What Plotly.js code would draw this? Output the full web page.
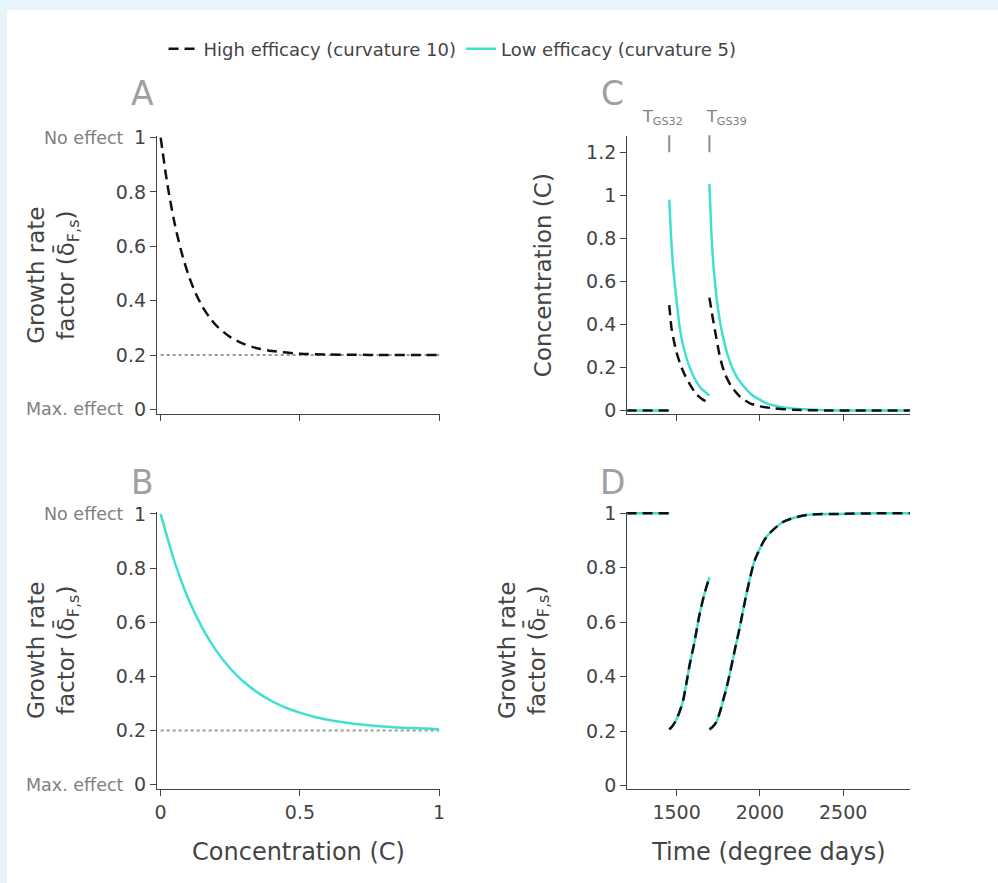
<!DOCTYPE html>
<html>
<head>
<meta charset="utf-8">
<script src="https://cdn.plot.ly/plotly-3.0.1.min.js"></script>
<style>
  html, body { margin: 0; padding: 0; background: #e7f4fb; width: 998px; height: 883px; overflow: hidden; }
  #chart { position: absolute; left: 7px; top: 10px; width: 991px; height: 873px; background: #fff; }
</style>
</head>
<body>
<div id="chart"></div>
<script>
// ---- Data ----
// Panel A: growth-rate factor vs concentration, high efficacy (curvature 10)
const concA = [0, 0.025, 0.05, 0.075, 0.1, 0.125, 0.15, 0.175, 0.2, 0.25, 0.3, 0.35, 0.4, 0.5, 0.6, 0.7, 0.8, 0.9, 1.0];
const growthHigh = [1.0, 0.823, 0.685, 0.578, 0.494, 0.429, 0.378, 0.339, 0.308, 0.266, 0.240, 0.224, 0.215, 0.205, 0.202, 0.201, 0.200, 0.200, 0.200];

// Panel B: growth-rate factor vs concentration, low efficacy (curvature 5)
const concB = [0, 0.05, 0.1, 0.15, 0.2, 0.25, 0.3, 0.35, 0.4, 0.45, 0.5, 0.55, 0.6, 0.65, 0.7, 0.75, 0.8, 0.85, 0.9, 0.95, 1.0];
const growthLow = [1.0, 0.823, 0.685, 0.578, 0.494, 0.429, 0.378, 0.339, 0.308, 0.284, 0.266, 0.251, 0.240, 0.231, 0.224, 0.219, 0.215, 0.211, 0.209, 0.207, 0.205];

// Maximum-effect reference level (dotted)
const maxEffectX = [0, 1];
const maxEffectY = [0.2, 0.2];

// Panel C: concentration over time (degree days)
const timeLowC = [1200, 1456, null, 1456, 1466, 1480, 1500, 1520, 1550, 1590, 1640, 1697, null,
                  1697, 1710, 1724, 1744, 1770, 1810, 1860, 1940, 2040, 2180, 2360, 2600, 2900];
const concLowC = [0, 0, null, 0.98, 0.82, 0.66, 0.51, 0.38, 0.27, 0.18, 0.11, 0.07, null,
                  1.053, 0.81, 0.65, 0.50, 0.375, 0.25, 0.158, 0.081, 0.034, 0.011, 0.003, 0, 0];
const timeHighC = [1200, 1456, null, 1456, 1470, 1485, 1500, 1525, 1550, 1585, 1620, 1660, 1697, null,
                   1697, 1715, 1730, 1760, 1790, 1830, 1880, 1940, 2000, 2080, 2200, 2400, 2900];
const concHighC = [0, 0, null, 0.49, 0.38, 0.32, 0.27, 0.21, 0.165, 0.115, 0.075, 0.05, 0.035, null,
                   0.525, 0.44, 0.375, 0.25, 0.17, 0.111, 0.065, 0.034, 0.02, 0.011, 0.004, 0.001, 0];

// Panel D: growth-rate factor over time (both efficacies coincide)
const timeD = [1200, 1456, null, 1456, 1470, 1485, 1500, 1520, 1540, 1560, 1580, 1605, 1635, 1665, 1697, null,
               1697, 1715, 1740, 1760, 1780, 1800, 1820, 1850, 1880, 1920, 1970, 2040, 2140, 2280, 2480, 2700, 2900];
const growthD = [1, 1, null, 0.207, 0.215, 0.228, 0.245, 0.275, 0.315, 0.38, 0.449, 0.52, 0.62, 0.70, 0.765, null,
                 0.207, 0.215, 0.235, 0.27, 0.315, 0.36, 0.413, 0.50, 0.584, 0.706, 0.829, 0.914, 0.969, 0.994, 0.998, 1, 1];

// Spray timings
const sprayTimes = [1456, 1697];
const sprayLabels = ['T<sub>GS32</sub>', 'T<sub>GS39</sub>'];
const sprayLabelTimes = [1418, 1800];

const seriesNames = ['High efficacy (curvature 10)', 'Low efficacy (curvature 5)'];
const panelLetters = ['A', 'B', 'C', 'D'];

// ---- Styles ----
const CYAN = '#40e0d0';
const BLACK = '#111111';
const DASH = '10px,6px';
const FONT = 'DejaVu Sans, Verdana, sans-serif';

const traces = [
  { x: maxEffectX, y: maxEffectY, xaxis: 'x', yaxis: 'y', mode: 'lines', showlegend: false, hoverinfo: 'skip',
    line: { color: '#999', width: 2, dash: 'dot' } },
  { x: maxEffectX, y: maxEffectY, xaxis: 'x2', yaxis: 'y2', mode: 'lines', showlegend: false, hoverinfo: 'skip',
    line: { color: '#999', width: 2, dash: 'dot' } },
  { x: concA, y: growthHigh, xaxis: 'x', yaxis: 'y', mode: 'lines', name: seriesNames[0],
    line: { color: BLACK, width: 2.5, dash: DASH, shape: 'spline', smoothing: 0.8 } },
  { x: concB, y: growthLow, xaxis: 'x2', yaxis: 'y2', mode: 'lines', name: seriesNames[1],
    line: { color: CYAN, width: 2.5, shape: 'spline', smoothing: 0.8 } },
  { x: timeLowC, y: concLowC, xaxis: 'x3', yaxis: 'y3', mode: 'lines', showlegend: false, connectgaps: false,
    line: { color: CYAN, width: 2.5, shape: 'spline', smoothing: 0.6 } },
  { x: timeHighC, y: concHighC, xaxis: 'x3', yaxis: 'y3', mode: 'lines', showlegend: false, connectgaps: false,
    line: { color: BLACK, width: 2.5, dash: DASH, shape: 'spline', smoothing: 0.6 } },
  { x: timeD, y: growthD, xaxis: 'x4', yaxis: 'y4', mode: 'lines', showlegend: false, connectgaps: false,
    line: { color: CYAN, width: 2.5, shape: 'spline', smoothing: 0.7 } },
  { x: timeD, y: growthD, xaxis: 'x4', yaxis: 'y4', mode: 'lines', showlegend: false, connectgaps: false,
    line: { color: BLACK, width: 2.5, dash: DASH, shape: 'spline', smoothing: 0.7 } }
];

function axisBase(extra) {
  return Object.assign({
    showline: true, linecolor: '#444', linewidth: 1.2,
    ticks: 'outside', ticklen: 6, tickcolor: '#444', tickwidth: 1,
    showgrid: false, zeroline: false,
    tickfont: { family: FONT, size: 19, color: '#444' }
  }, extra);
}
const yTitleFont = { family: FONT, size: 23, color: '#444' };
const xTitleFont = { family: FONT, size: 24, color: '#444' };
const yTitleText = 'Growth rate<br>factor (δ\u0304<sub>F,s</sub>)';

const LX = [0.1514, 0.4369], RX = [0.6259, 0.9117];
const TY = [0.5369, 0.8557], BY = [0.1077, 0.4253];

const layout = {
  width: 991, height: 873,
  margin: { l: 0, r: 0, t: 0, b: 0 },
  paper_bgcolor: '#ffffff', plot_bgcolor: '#ffffff',
  font: { family: FONT, color: '#444' },
  showlegend: true,
  legend: { orientation: 'h', x: 0.4496, y: 0.9553, xanchor: 'center', yanchor: 'middle',
            font: { family: FONT, size: 18, color: '#444' }, bgcolor: 'rgba(0,0,0,0)' },
  xaxis: axisBase({ domain: LX, anchor: 'y', range: [-0.013, 1.003], tickvals: [0, 0.5, 1], showticklabels: false }),
  yaxis: axisBase({ domain: TY, anchor: 'x', range: [-0.018, 1.006], dtick: 0.2, tick0: 0,
                    title: { text: yTitleText, font: yTitleFont, standoff: 34 } }),
  xaxis2: axisBase({ domain: LX, anchor: 'y2', range: [-0.013, 1.003], tickvals: [0, 0.5, 1], ticktext: ['0', '0.5', '1'],
                     title: { text: 'Concentration (C)', font: xTitleFont, standoff: 21 } }),
  yaxis2: axisBase({ domain: BY, anchor: 'x2', range: [-0.016, 1.008], dtick: 0.2, tick0: 0,
                     title: { text: yTitleText, font: yTitleFont, standoff: 34 } }),
  xaxis3: axisBase({ domain: RX, anchor: 'y3', range: [1204, 2904], dtick: 500, tick0: 0, showticklabels: false }),
  yaxis3: axisBase({ domain: TY, anchor: 'x3', range: [-0.017, 1.276], dtick: 0.2, tick0: 0,
                     title: { text: 'Concentration (C)', font: yTitleFont, standoff: 28 } }),
  xaxis4: axisBase({ domain: RX, anchor: 'y4', range: [1204, 2904], dtick: 500, tick0: 0,
                     title: { text: 'Time (degree days)', font: xTitleFont, standoff: 21 } }),
  yaxis4: axisBase({ domain: BY, anchor: 'x4', range: [-0.012, 1.006], dtick: 0.2, tick0: 0,
                     title: { text: yTitleText, font: yTitleFont, standoff: 34 } }),
  annotations: []
};

// Panel letters
const letterPos = [[0.1372, 0.9049], [0.1372, 0.4582], [0.6115, 0.9049], [0.6115, 0.4582]];
panelLetters.forEach((t, i) => {
  layout.annotations.push({ text: t, xref: 'paper', yref: 'paper', x: letterPos[i][0], y: letterPos[i][1],
    xanchor: 'center', yanchor: 'middle', showarrow: false, font: { family: FONT, size: 33, color: '#a0a0a0' } });
});

// "No effect" / "Max. effect" labels
['y', 'y2'].forEach((yr) => {
  layout.annotations.push({ text: 'No effect', xref: 'paper', yref: yr, x: 0.1201, y: 1, xanchor: 'right', yanchor: 'middle',
    showarrow: false, font: { family: FONT, size: 17.5, color: '#808080' } });
  layout.annotations.push({ text: 'Max. effect', xref: 'paper', yref: yr, x: 0.1201, y: 0, xanchor: 'right', yanchor: 'middle',
    showarrow: false, font: { family: FONT, size: 17.5, color: '#808080' } });
});

// Spray timing markers in panel C
sprayTimes.forEach((t, i) => {
  layout.annotations.push({ text: ' ', xref: 'x3', yref: 'y3', x: t, y: 1.2, showarrow: true, arrowhead: 0,
    arrowwidth: 2, arrowcolor: '#8c8c8c', ax: 0, ay: -19, standoff: 0, font: { size: 1 } });
  layout.annotations.push({ text: sprayLabels[i], xref: 'x3', yref: 'paper', x: sprayLabelTimes[i], y: 0.8763,
    xanchor: 'center', yanchor: 'middle', showarrow: false, font: { family: FONT, size: 16, color: '#808080' } });
});

Plotly.newPlot('chart', traces, layout, { displayModeBar: false, staticPlot: true });
</script>
</body>
</html>
